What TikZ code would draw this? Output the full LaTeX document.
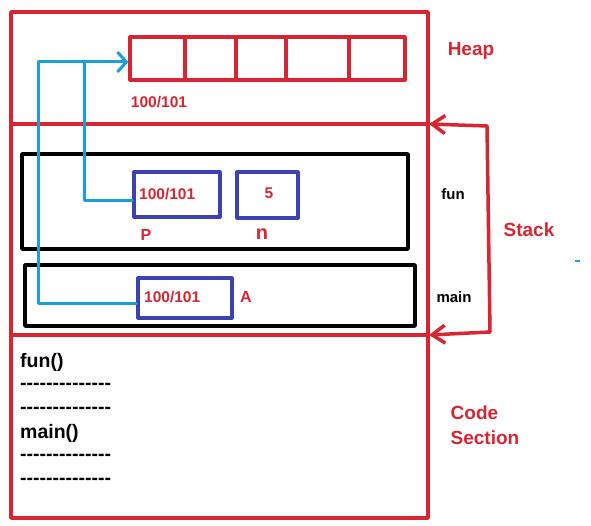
\documentclass[tikz,border=0pt]{standalone}
\usepackage{fontspec}
\setmainfont{Liberation Sans}
\usepackage{tikz}
\usetikzlibrary{arrows.meta}
\definecolor{memred}{RGB}{215,38,50}
\definecolor{ptrblue}{RGB}{25,160,220}
\definecolor{boxblue}{RGB}{60,65,180}
\newcommand{\dashrow}{\foreach \k in {1,...,14}{\mbox{-}}}
\tikzset{
  hcell/.style={draw=memred,line width=3.2pt,minimum height=43pt,inner sep=0pt},
  frame/.style={draw=black,line width=3.8pt,inner sep=0pt},
  vbox/.style={draw=boxblue,line width=3.2pt,inner sep=0pt},
  rline/.style={draw=memred,line width=3.5pt},
  bline/.style={draw=ptrblue,line width=3pt},
  seclabel/.style={text=memred,font=\fontsize{19}{25}\selectfont\bfseries,inner sep=0pt},
  val/.style={text=memred,font=\fontsize{15.5}{18}\selectfont\bfseries,inner sep=0pt},
  fname/.style={text=black,font=\fontsize{15}{18}\selectfont\bfseries,inner sep=0pt},
  code/.style={text=black,font=\fontsize{19.5}{24}\selectfont\bfseries,inner sep=0pt,anchor=west}
}
\begin{document}
\begin{tikzpicture}[line cap=round,line join=round,>={Straight Barb[length=9pt,width=20pt]},x=1pt,y=-1pt]
\useasboundingbox (0,0) rectangle (591,526);

% memory sections
\draw[rline] (11,12) rectangle (428,518);
\draw[rline] (11,124) -- (428,124);
\draw[rline] (11,335) -- (428,335);
\coordinate (stktop) at (429,124);
\coordinate (stkbot) at (429,335);

% heap array
\node[hcell,minimum width=55pt] (cell1) at (157.5,58.5) {};
\node[hcell,minimum width=51pt] (cell2) at (210.5,58.5) {};
\node[hcell,minimum width=50pt] (cell3) at (261,58.5) {};
\node[hcell,minimum width=63pt] (cell4) at (317.5,58.5) {};
\node[hcell,minimum width=56pt] (cell5) at (377,58.5) {};
\node[val] (haddr) at (159,102) {100/101};
\node[seclabel] (heap) at (471,51) {Heap};

% stack frames
\node[frame,minimum width=386pt,minimum height=95pt] (funfr) at (215,201.5) {};
\node[frame,minimum width=390pt,minimum height=61pt] (mainfr) at (220,295.5) {};
\node[vbox,minimum width=86pt,minimum height=45pt] (pbox) at (177,194.5) {};
\node[vbox,minimum width=61pt,minimum height=46pt] (nbox) at (267.5,195) {};
\node[vbox,minimum width=94pt,minimum height=40pt] (abox) at (185,298) {};
\node[val,anchor=west] (pval) at (139,194) {100/101};
\node[val] (nval) at (269,193) {5};
\node[val,anchor=west] (aval) at (144,297) {100/101};
\node[val,font=\fontsize{16}{18}\selectfont\bfseries] (pname) at (146,235) {P};
\node[val,font=\fontsize{20}{22}\selectfont\bfseries] (nname) at (262,234) {n};
\node[val,font=\fontsize{16}{18}\selectfont\bfseries] (aname) at (246,297) {A};
\node[fname] (funlb) at (453,194) {fun};
\node[fname] (mainlb) at (454,297) {main};
\node[seclabel] (stack) at (529,230) {Stack};
\draw[rline,<->,>={Straight Barb[length=13pt,width=18pt]}] (stktop) -- (487,126) -- (490,332) -- (stkbot);

% pointers
\coordinate (jn) at (84,62);
\draw[bline,->] ([yshift=-6pt]abox.west) -| (38,62) -- ([yshift=-3.5pt]cell1.west);
\draw[bline] ([yshift=-6pt]pbox.west) -| (jn);
\fill[ptrblue] (575,260) rectangle (580,262.5);

% code section
\node[code] (c1) at (20,362) {fun()};
\node[code] (c2) at (20,386) {\dashrow};
\node[code] (c3) at (20,410) {\dashrow};
\node[code] (c4) at (20,433) {main()};
\node[code] (c5) at (20,457) {\dashrow};
\node[code] (c6) at (20,481) {\dashrow};
\node[seclabel,align=left] (codesec) at (485,425.5) {Code\\Section};
\end{tikzpicture}
\end{document}
